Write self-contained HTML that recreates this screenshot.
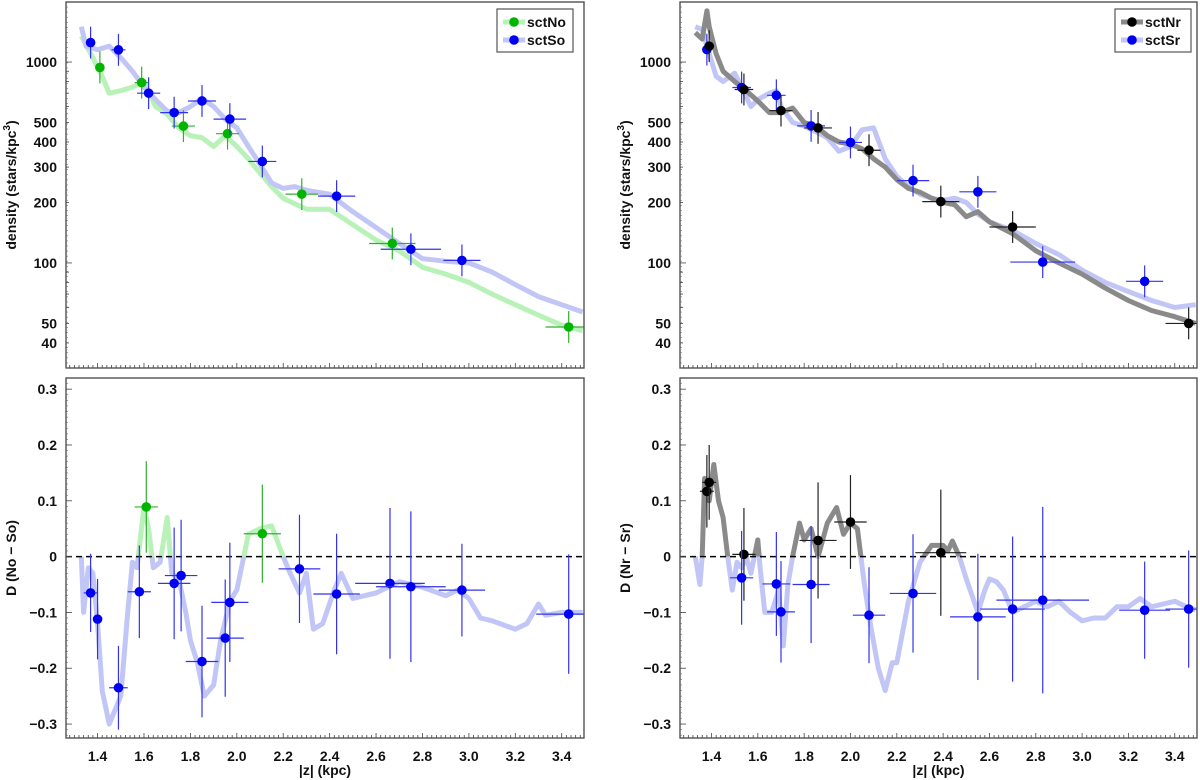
<!DOCTYPE html>
<html><head><meta charset="utf-8"><style>
body{margin:0;background:#fff;}
svg{display:block;font-family:"Liberation Sans",sans-serif;font-weight:bold;}
</style></head><body>
<svg id="fig" width="1200" height="780" viewBox="0 0 1200 780"></svg>
<script>
// ---------- data ----------
const tlGreenCurveZ=[1.33,1.38,1.42,1.45,1.5,1.55,1.6,1.65,1.7,1.75,1.8,1.85,1.9,1.95,2.0,2.05,2.1,2.15,2.2,2.3,2.4,2.5,2.6,2.7,2.8,2.9,3.0,3.1,3.2,3.3,3.4,3.49];
const tlGreenCurveD=[1350,1050,850,700,720,750,800,600,550,470,430,420,380,430,380,330,280,240,210,185,185,155,130,115,95,88,80,70,62,55,49,46];
const tlBlueCurveZ=[1.33,1.35,1.4,1.45,1.5,1.55,1.6,1.65,1.7,1.75,1.8,1.85,1.9,1.95,2.0,2.05,2.1,2.15,2.2,2.25,2.3,2.4,2.5,2.6,2.7,2.8,2.9,3.0,3.1,3.2,3.3,3.4,3.49];
const tlBlueCurveD=[1500,1200,1150,1200,1050,900,750,650,570,560,600,660,600,520,470,380,310,250,235,240,230,220,180,150,125,105,102,100,90,78,68,62,57];
const tlGreenZ=[1.41,1.59,1.77,1.96,2.28,2.67,3.43];
const tlGreenD=[940,790,480,440,220,125,48];
const tlGreenZerr=[0.02,0.03,0.05,0.05,0.07,0.1,0.1];
const tlBlueZ=[1.37,1.49,1.62,1.73,1.85,1.97,2.11,2.43,2.75,2.97];
const tlBlueD=[1250,1150,700,560,640,520,320,215,117,103];
const tlBlueZerr=[0.02,0.03,0.05,0.06,0.06,0.07,0.06,0.08,0.13,0.08];

const blCurveZ=[1.33,1.34,1.36,1.38,1.40,1.42,1.45,1.47,1.5,1.53,1.55,1.57,1.6,1.62,1.64,1.67,1.7,1.72,1.75,1.78,1.8,1.83,1.86,1.9,1.93,1.97,2.0,2.05,2.1,2.15,2.2,2.23,2.27,2.3,2.33,2.37,2.42,2.45,2.5,2.55,2.6,2.7,2.8,2.9,2.95,3.0,3.05,3.1,3.2,3.25,3.3,3.33,3.4,3.49];
const blCurveD=[0,-0.1,-0.02,-0.03,-0.12,-0.24,-0.3,-0.28,-0.25,-0.1,-0.01,-0.02,0.09,0.05,-0.02,-0.01,0.07,-0.03,-0.04,-0.1,-0.15,-0.19,-0.25,-0.23,-0.15,-0.08,-0.06,0.04,0.05,0.055,0.0,-0.03,-0.065,-0.03,-0.13,-0.12,-0.06,-0.03,-0.075,-0.07,-0.065,-0.045,-0.055,-0.07,-0.06,-0.075,-0.11,-0.115,-0.13,-0.12,-0.085,-0.105,-0.1,-0.1];
const blGreenZ=[1.61,2.11];
const blGreenD=[0.089,0.041];
const blGreenZerr=[0.05,0.08];
const blGreenDerr=[0.082,0.088];
const blBlueZ=[1.37,1.40,1.49,1.58,1.73,1.76,1.85,1.95,1.97,2.27,2.43,2.66,2.75,2.97,3.43];
const blBlueD=[-0.065,-0.112,-0.235,-0.063,-0.048,-0.034,-0.188,-0.146,-0.082,-0.022,-0.067,-0.048,-0.054,-0.060,-0.103];
const blBlueZerr=[0.03,0.02,0.04,0.05,0.07,0.07,0.07,0.08,0.08,0.09,0.1,0.15,0.15,0.1,0.14];
const blBlueDerr=[0.07,0.072,0.075,0.083,0.1,0.1,0.1,0.105,0.107,0.097,0.108,0.135,0.135,0.083,0.107];

const trGrayCurveZ=[1.33,1.36,1.38,1.39,1.42,1.45,1.5,1.55,1.6,1.65,1.7,1.75,1.8,1.85,1.9,1.95,2.0,2.05,2.1,2.15,2.2,2.25,2.3,2.35,2.4,2.45,2.5,2.55,2.6,2.7,2.8,2.9,3.0,3.1,3.2,3.3,3.4,3.49];
const trGrayCurveD=[1400,1300,1800,1500,1100,900,800,720,640,560,560,590,500,480,430,400,390,370,330,300,260,235,225,210,200,195,170,180,160,140,115,100,88,75,65,58,54,50];
const trBlueCurveZ=[1.33,1.36,1.38,1.42,1.45,1.5,1.53,1.57,1.6,1.65,1.68,1.7,1.75,1.8,1.85,1.9,1.95,2.0,2.05,2.1,2.15,2.2,2.25,2.3,2.35,2.4,2.45,2.5,2.55,2.6,2.7,2.8,2.9,3.0,3.1,3.2,3.3,3.4,3.49];
const trBlueCurveD=[1500,1450,1200,850,800,880,750,600,650,700,720,600,500,480,450,420,360,380,460,470,330,270,240,220,210,205,210,200,175,160,145,125,110,92,80,72,65,60,62];
const trBlackZ=[1.39,1.54,1.70,1.86,2.08,2.39,2.70,3.46];
const trBlackD=[1200,730,573,470,364,202,151,50];
const trBlackZerr=[0.02,0.04,0.05,0.06,0.05,0.08,0.1,0.1];
const trBlueZ=[1.38,1.53,1.68,1.83,2.00,2.27,2.55,2.83,3.27];
const trBlueD=[1153,747,683,481,398,257,226,101,81];
const trBlueZerr=[0.02,0.04,0.04,0.06,0.05,0.07,0.08,0.14,0.08];

const brCurveZ=[1.33,1.35,1.36,1.37,1.39,1.41,1.43,1.45,1.47,1.49,1.51,1.53,1.55,1.57,1.6,1.61,1.63,1.66,1.69,1.71,1.73,1.75,1.78,1.8,1.83,1.86,1.9,1.94,1.97,2.0,2.03,2.06,2.09,2.12,2.15,2.18,2.2,2.25,2.3,2.35,2.4,2.42,2.44,2.47,2.5,2.55,2.58,2.6,2.63,2.66,2.7,2.75,2.8,2.85,2.9,2.95,3.0,3.05,3.1,3.15,3.2,3.25,3.3,3.35,3.4,3.45,3.49];
const brCurveD=[0,-0.05,0.0,0.14,0.1,0.165,0.1,0.07,0.0,-0.06,-0.01,-0.02,0.0,-0.03,0.03,-0.02,-0.1,-0.1,-0.06,-0.16,-0.05,0.0,0.06,0.03,0.05,0.0,0.06,0.088,0.04,0.06,0.05,-0.05,-0.13,-0.2,-0.24,-0.19,-0.19,-0.08,-0.01,0.02,0.02,0.01,0.028,0.0,-0.04,-0.1,-0.06,-0.04,-0.045,-0.06,-0.1,-0.09,-0.08,-0.09,-0.08,-0.1,-0.115,-0.11,-0.11,-0.09,-0.09,-0.075,-0.09,-0.085,-0.08,-0.09,-0.095];
const brBlackZ=[1.38,1.39,1.54,1.86,2.00,2.39];
const brBlackD=[0.117,0.133,0.004,0.029,0.062,0.007];
const brBlackZerr=[0.03,0.03,0.05,0.08,0.07,0.11];
const brBlackDerr=[0.065,0.067,0.083,0.104,0.084,0.113];
const brBlueZ=[1.53,1.68,1.70,1.83,2.08,2.27,2.55,2.70,2.83,3.27,3.46];
const brBlueD=[-0.038,-0.049,-0.099,-0.050,-0.105,-0.066,-0.108,-0.094,-0.078,-0.096,-0.094];
const brBlueZerr=[0.05,0.06,0.06,0.08,0.07,0.1,0.12,0.14,0.2,0.11,0.1];
const brBlueDerr=[0.084,0.093,0.091,0.105,0.086,0.106,0.113,0.13,0.167,0.087,0.105];

const xTicks=[1.4,1.6,1.8,2.0,2.2,2.4,2.6,2.8,3.0,3.2,3.4];
const logTicks=[40,50,100,200,300,400,500,1000];
const diffTicks=[-0.3,-0.2,-0.1,0,0.1,0.2,0.3];

// ---------- drawing ----------
const NS='http://www.w3.org/2000/svg';
const svg=document.getElementById('fig');
function el(tag,attrs,parent){const e=document.createElementNS(NS,tag);for(const k in attrs)e.setAttribute(k,attrs[k]);(parent||svg).appendChild(e);return e;}
const XMIN=1.264,XMAX=3.496;
let uid=0;
function panel(x0,y0,w,h,isLog,name){
  const g=el('g',{});
  
  
  const sx=z=>x0+(z-XMIN)/(XMAX-XMIN)*w;
  let sy;
  if(isLog){const lo=Math.log10(30),hi=Math.log10(1990);sy=v=>y0+h-(Math.log10(v)-lo)/(hi-lo)*h;}
  else{const lo=-0.325,hi=0.32;sy=v=>y0+h-(v-lo)/(hi-lo)*h;}
  const id='c'+(uid++);
  const cp=el('clipPath',{id:id},g);el('rect',{x:x0,y:y0,width:w,height:h},cp);
  const plot=el('g',{'clip-path':'url(#'+id+')'},g);
  return {g,plot,sx,sy,x0,y0,w,h,id};
}
function curve(p,zs,ds,color,name,parent){
  let d='';zs.forEach((z,i)=>{d+=(i?'L':'M')+p.sx(z).toFixed(1)+','+p.sy(ds[i]).toFixed(1);});
  const c=el('path',{d:d,fill:'none',stroke:color,'stroke-width':5,'stroke-linejoin':'round'},parent||p.plot);
  
  
}
function points(p,zs,ds,zerr,derr,color,barColor,name,isLog){
  zs.forEach((z,i)=>{
    const cx=p.sx(z),cy=p.sy(ds[i]);
    const gg=el('g',{},p.plot);
    
    
    let y1,y2;
    if(isLog){y1=p.sy(ds[i]*1.2);y2=p.sy(ds[i]/1.2);}else{y1=p.sy(ds[i]+derr[i]);y2=p.sy(ds[i]-derr[i]);}
    el('line',{x1:cx,x2:cx,y1:y1,y2:y2,stroke:barColor,'stroke-width':1.2},gg);
    el('line',{x1:p.sx(z-zerr[i]),x2:p.sx(z+zerr[i]),y1:cy,y2:cy,stroke:barColor,'stroke-width':1.2},gg);
    el('circle',{cx:cx,cy:cy,r:4.8,fill:color},gg);
  });
}
function axes(p,isLog,ylabel,showX){
  const {x0,y0,w,h}=p;
  el('rect',{x:x0,y:y0,width:w,height:h,fill:'none',stroke:'#444','stroke-width':1.3},p.g);
  for(let z=1.28;z<=3.49;z+=0.02){
    const x=p.sx(z);const major=Math.abs(z*5-Math.round(z*5))<0.01;
    el('line',{x1:x,x2:x,y1:y0+h,y2:y0+h-(major?5:3),stroke:'#444','stroke-width':0.8},p.g);
  }
  xTicks.forEach(t=>{
    const x=p.sx(t);
    if(showX){const tx=el('text',{x:x,y:y0+h+23,'text-anchor':'middle','font-size':14,fill:'#111'},p.g);tx.textContent=t.toFixed(1);
      }
  });
  if(isLog){
    for(let dec=10;dec<=1000;dec*=10)for(let m=1;m<10;m++){const v=dec*m;if(v<30||v>1990)continue;
      for(let k=0;k<1;k++){}
      el('line',{x1:x0,x2:x0+(m==1?6:3),y1:p.sy(v),y2:p.sy(v),stroke:'#444','stroke-width':0.8},p.g);}
    for(let v=30;v<1990;v*=1.06){el('line',{x1:x0,x2:x0+2,y1:p.sy(v),y2:p.sy(v),stroke:'#666','stroke-width':0.6},p.g);}
    logTicks.forEach(t=>{const tx=el('text',{x:x0-9,y:p.sy(t)+5,'text-anchor':'end','font-size':14,fill:'#111'},p.g);tx.textContent=t;
      });
  } else {
    for(let v=-0.32;v<=0.32;v+=0.01){el('line',{x1:x0,x2:x0+2,y1:p.sy(v),y2:p.sy(v),stroke:'#666','stroke-width':0.6},p.g);}
    diffTicks.forEach(t=>{el('line',{x1:x0,x2:x0+6,y1:p.sy(t),y2:p.sy(t),stroke:'#444','stroke-width':0.8},p.g);
      const tx=el('text',{x:x0-9,y:p.sy(t)+5,'text-anchor':'end','font-size':14,fill:'#111'},p.g);
      tx.textContent=t===0?'0':(t<0?'\u2212'+Math.abs(t).toFixed(1):t.toFixed(1));
      });
  }
  const yl=el('text',{x:0,y:0,transform:'translate('+(x0-50)+','+(y0+h/2)+') rotate(-90)','text-anchor':'middle','font-size':14,fill:'#111'},p.g);
  yl.innerHTML=ylabel;
  
  if(showX){const xl=el('text',{x:x0+w/2,y:775,'text-anchor':'middle','font-size':14,fill:'#111'},p.g);xl.textContent='|z| (kpc)';
    }
}
function diffCurve(p,zs,ds,posColor,negColor,name){
  const z0=p.sy(0);
  const a='a'+(uid++),b='b'+(uid++);
  const ca=el('clipPath',{id:a},p.plot);el('rect',{x:p.x0,y:p.y0,width:p.w,height:z0-p.y0},ca);
  const cb=el('clipPath',{id:b},p.plot);el('rect',{x:p.x0,y:z0,width:p.w,height:p.y0+p.h-z0},cb);
  const ga=el('g',{'clip-path':'url(#'+a+')'},p.plot);const gb=el('g',{'clip-path':'url(#'+b+')'},p.plot);
  curve(p,zs,ds,posColor,name+'-positive',ga);
  curve(p,zs,ds,negColor,name+'-negative',gb);
  const zl=el('line',{x1:p.x0,x2:p.x0+p.w,y1:z0,y2:z0,stroke:'#000','stroke-width':1.5,'stroke-dasharray':'6,4'},p.plot);
  
}
function legend(x,y,items,name){
  const g=el('g',{});
  
  
  el('rect',{x:x,y:y,width:76,height:43,fill:'#fff',stroke:'#555','stroke-width':1.2},g);
  items.forEach((it,i)=>{const yy=y+13+i*18;
    el('line',{x1:x+6,x2:x+28,y1:yy,y2:yy,stroke:it[1],'stroke-width':5},g);
    el('circle',{cx:x+17,cy:yy,r:4.8,fill:it[2]},g);
    const t=el('text',{x:x+30,y:yy+5,'font-size':14,fill:'#111'},g);t.textContent=it[0];
    });
}
const GREENL='#b8f2b8',BLUEL='#c2c6f6',GRAYL='#8a8a8a';
const DENS='density (stars/kpc<tspan dy="-6" font-size="10">3</tspan><tspan dy="6">)</tspan>';
// top-left
const tl=panel(66,2,518,366,true,'density-north-south-panel');
curve(tl,tlGreenCurveZ,tlGreenCurveD,GREENL,'sctNo-curve');
curve(tl,tlBlueCurveZ,tlBlueCurveD,BLUEL,'sctSo-curve');
points(tl,tlGreenZ,tlGreenD,tlGreenZerr,null,'#00b400','#30b030','sctNo-point',true);
points(tl,tlBlueZ,tlBlueD,tlBlueZerr,null,'#0000f0','#3333ee','sctSo-point',true);
axes(tl,true,DENS,false);
legend(497,9,[['sctNo',GREENL,'#00b400'],['sctSo',BLUEL,'#0000f0']],'legend-left');
// bottom-left
const bl=panel(66,378,518,360,false,'difference-no-so-panel');
diffCurve(bl,blCurveZ,blCurveD,GREENL,BLUEL,'diff-curve');
points(bl,blGreenZ,blGreenD,blGreenZerr,blGreenDerr,'#00b400','#30b030','diff-point-positive',false);
points(bl,blBlueZ,blBlueD,blBlueZerr,blBlueDerr,'#0000f0','#3333ee','diff-point-negative',false);
axes(bl,false,'D (No \u2212 So)',true);
// top-right
const tr=panel(680,2,517,366,true,'density-nr-sr-panel');
curve(tr,trBlueCurveZ,trBlueCurveD,BLUEL,'sctSr-curve');
curve(tr,trGrayCurveZ,trGrayCurveD,GRAYL,'sctNr-curve');
points(tr,trBlueZ,trBlueD,trBlueZerr,null,'#0000f0','#3333ee','sctSr-point',true);
points(tr,trBlackZ,trBlackD,trBlackZerr,null,'#000','#222','sctNr-point',true);
axes(tr,true,DENS,false);
legend(1115,9,[['sctNr',GRAYL,'#000'],['sctSr',BLUEL,'#0000f0']],'legend-right');
// bottom-right
const br=panel(680,378,517,360,false,'difference-nr-sr-panel');
diffCurve(br,brCurveZ,brCurveD,GRAYL,BLUEL,'diff-curve-r');
points(br,brBlackZ,brBlackD,brBlackZerr,brBlackDerr,'#000','#222','diff-point-positive',false);
points(br,brBlueZ,brBlueD,brBlueZerr,brBlueDerr,'#0000f0','#3333ee','diff-point-negative',false);
axes(br,false,'D (Nr \u2212 Sr)',true);
</script>
</body></html>
